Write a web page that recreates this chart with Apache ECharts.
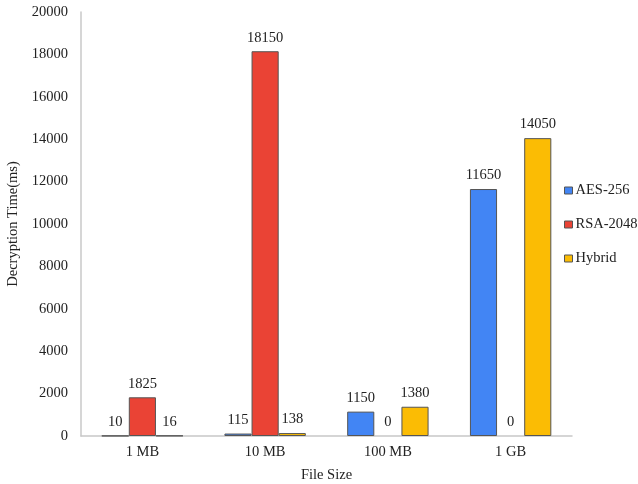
<!DOCTYPE html>
<html>
<head>
<meta charset="utf-8">
<script src="https://cdn.jsdelivr.net/npm/echarts@6/dist/echarts.min.js"></script>
<style>
  html, body { margin: 0; padding: 0; background: #fff; }
  #chart { width: 638px; height: 484px; }
</style>
</head>
<body>
<div id="chart"></div>
<script>
const categories = ['1 MB', '10 MB', '100 MB', '1 GB'];
const aesValues = [10, 115, 1150, 11650];
const rsaValues = [1825, 18150, 0, 0];
const hybridValues = [16, 138, 1380, 14050];
const seriesNames = ['AES-256', 'RSA-2048', 'Hybrid'];
const seriesColors = ['#4285f4', '#ea4335', '#fbbc04'];

const serif = '"Liberation Serif", "Times New Roman", serif';
const textColor = '#222';
const fontSize = 14.5;

function makeSeries(name, values, color) {
  return {
    name: name,
    type: 'bar',
    // zero-height bars are left without an outline
    data: values.map(v => v === 0 ? { value: v, itemStyle: { borderWidth: 0 } } : v),
    barGap: '0%',
    barCategoryGap: '33.7%',
    itemStyle: { color: color, borderColor: '#555', borderWidth: 1 },
    label: {
      show: true,
      position: 'top',
      distance: 6,
      color: textColor,
      fontFamily: serif,
      fontSize: fontSize
    }
  };
}

const chart = echarts.init(document.getElementById('chart'));
chart.setOption({
  animation: false,
  backgroundColor: '#fff',
  grid: {
    left: 81, right: 66, top: 12, bottom: 48,
    containLabel: false,
    outerBoundsMode: 'none'
  },
  legend: {
    orient: 'vertical',
    left: 564,
    top: 183,
    padding: 0,
    itemWidth: 8,
    itemHeight: 7,
    itemGap: 19,
    icon: 'rect',
    data: seriesNames,
    itemStyle: { borderColor: '#555', borderWidth: 1 },
    textStyle: { color: textColor, fontFamily: serif, fontSize: fontSize, padding: [0, 0, 0, -2] }
  },
  xAxis: {
    type: 'category',
    data: categories,
    name: 'File Size',
    nameLocation: 'middle',
    nameGap: 32,
    nameTextStyle: { color: textColor, fontFamily: serif, fontSize: fontSize },
    axisLine: { lineStyle: { color: '#c8c8c8', width: 1.5 } },
    axisTick: { show: false },
    axisLabel: { color: textColor, fontFamily: serif, fontSize: fontSize, margin: 9 }
  },
  yAxis: {
    type: 'value',
    min: 0,
    max: 20000,
    interval: 2000,
    name: 'Decryption Time(ms)',
    nameLocation: 'middle',
    nameGap: 50,
    nameTextStyle: { color: textColor, fontFamily: serif, fontSize: fontSize },
    axisLine: { show: true, lineStyle: { color: '#c8c8c8', width: 1.5 } },
    axisTick: { show: false },
    splitLine: { show: false },
    axisLabel: {
      color: textColor, fontFamily: serif, fontSize: fontSize, margin: 13,
      formatter: v => String(v)
    }
  },
  series: [
    makeSeries(seriesNames[0], aesValues, seriesColors[0]),
    makeSeries(seriesNames[1], rsaValues, seriesColors[1]),
    makeSeries(seriesNames[2], hybridValues, seriesColors[2])
  ]
});
</script>
</body>
</html>
